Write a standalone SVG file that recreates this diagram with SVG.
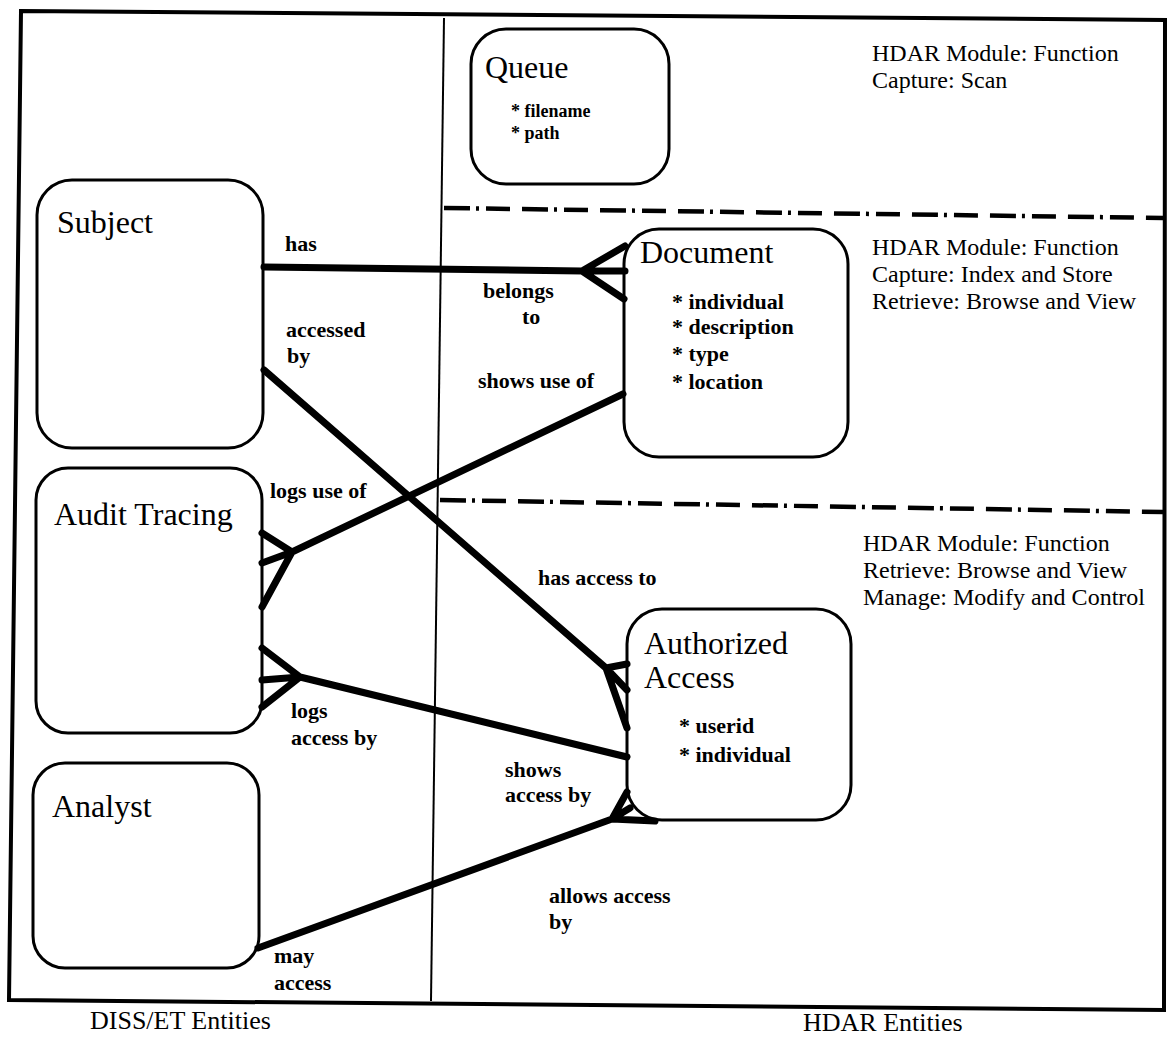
<svg xmlns="http://www.w3.org/2000/svg" width="1167" height="1044" viewBox="0 0 1167 1044">
<style>
.box{fill:none;stroke:#000;stroke-width:3}
.frame{fill:none;stroke:#000;stroke-width:4}
.div{stroke:#000;stroke-width:2}
.dash{stroke:#000;stroke-width:4.5;stroke-dasharray:26 6 3 7 24 12}
.conn{stroke:#000;stroke-width:7;fill:none;stroke-linecap:round;stroke-linejoin:round}
.title{font-family:"Liberation Serif","Times New Roman",serif;font-size:32px;fill:#000}
.attr{font-family:"Liberation Serif","Times New Roman",serif;font-size:22px;font-weight:bold;fill:#000}
.qattr{font-family:"Liberation Serif","Times New Roman",serif;font-size:18px;font-weight:bold;fill:#000}
.lbl{font-family:"Liberation Serif","Times New Roman",serif;font-size:22px;font-weight:bold;fill:#000}
.note{font-family:"Liberation Serif","Times New Roman",serif;font-size:24px;fill:#000}
.cap{font-family:"Liberation Serif","Times New Roman",serif;font-size:26px;fill:#000}
</style>
<rect width="1167" height="1044" fill="#fff"/>
<g id="frame">
<path class="frame" d="M21,11 L1165,20 L1164,1010 L9,1000 Z"/>
<line class="div" x1="444" y1="18" x2="431" y2="1001"/>
<line class="dash" x1="444" y1="208" x2="1163" y2="218"/>
<line class="dash" x1="440" y1="500" x2="1163" y2="512"/>
</g>
<g id="connectors">
<path class="conn" d="M264,267 L582,271 M582,271 L625,246 M582,271 L625,271 M582,271 L624,299"/>
<path class="conn" d="M264,370 L606,668 M606,668 L627,664 M606,668 L627,690 M606,668 L627,728"/>
<path class="conn" d="M623,394 L292,552 M292,552 L262,533 M292,552 L262,563 M292,552 L262,607"/>
<path class="conn" d="M627,757 L300,677 M300,677 L262,648 M300,677 L262,680 M300,677 L262,707"/>
<path class="conn" d="M258,948 L612,819 M612,819 L627,792 M612,819 L630,808 M612,819 L655,821"/>
</g>
<g id="queue">
<rect class="box" x="471" y="29" width="198" height="155" rx="35"/>
<text class="title" x="485" y="78">Queue</text>
<text class="qattr" x="511" y="117">* filename</text>
<text class="qattr" x="511" y="139">* path</text>
</g>
<g id="subject">
<rect class="box" x="37" y="180" width="226" height="268" rx="35"/>
<text class="title" x="57" y="233">Subject</text>
</g>
<g id="audit">
<rect class="box" x="36" y="468" width="226" height="265" rx="32"/>
<text class="title" x="54" y="525">Audit Tracing</text>
</g>
<g id="analyst">
<rect class="box" x="33" y="763" width="226" height="205" rx="32"/>
<text class="title" x="52" y="817">Analyst</text>
</g>
<g id="document">
<rect class="box" x="624" y="229" width="224" height="228" rx="35"/>
<text class="title" x="640" y="263">Document</text>
<text class="attr" x="672" y="309">* individual</text>
<text class="attr" x="672" y="334">* description</text>
<text class="attr" x="672" y="361">* type</text>
<text class="attr" x="672" y="389">* location</text>
</g>
<g id="authorized">
<rect class="box" x="627" y="609" width="224" height="211" rx="35"/>
<text class="title" x="644" y="654" font-size="30">Authorized</text>
<text class="title" x="644" y="688" font-size="30">Access</text>
<text class="attr" x="679" y="733">* userid</text>
<text class="attr" x="679" y="762">* individual</text>
</g>
<g id="labels">
<text class="lbl" x="285" y="251">has</text>
<text class="lbl" x="483" y="298">belongs</text>
<text class="lbl" x="522" y="324">to</text>
<text class="lbl" x="286" y="337">accessed</text>
<text class="lbl" x="287" y="363">by</text>
<text class="lbl" x="478" y="388">shows use of</text>
<text class="lbl" x="270" y="498">logs use of</text>
<text class="lbl" x="538" y="585">has access to</text>
<text class="lbl" x="291" y="718">logs</text>
<text class="lbl" x="291" y="745">access by</text>
<text class="lbl" x="505" y="777">shows</text>
<text class="lbl" x="505" y="802">access by</text>
<text class="lbl" x="549" y="903">allows access</text>
<text class="lbl" x="549" y="929">by</text>
<text class="lbl" x="274" y="963">may</text>
<text class="lbl" x="274" y="990">access</text>
</g>
<g id="notes">
<text class="note" x="872" y="61">HDAR Module: Function</text>
<text class="note" x="872" y="88">Capture: Scan</text>
<text class="note" x="872" y="255">HDAR Module: Function</text>
<text class="note" x="872" y="282">Capture: Index and Store</text>
<text class="note" x="872" y="309">Retrieve: Browse and View</text>
<text class="note" x="863" y="551">HDAR Module: Function</text>
<text class="note" x="863" y="578">Retrieve: Browse and View</text>
<text class="note" x="863" y="605">Manage: Modify and Control</text>
</g>
<g id="captions">
<text class="cap" x="90" y="1029">DISS/ET Entities</text>
<text class="cap" x="803" y="1031">HDAR Entities</text>
</g>
</svg>
